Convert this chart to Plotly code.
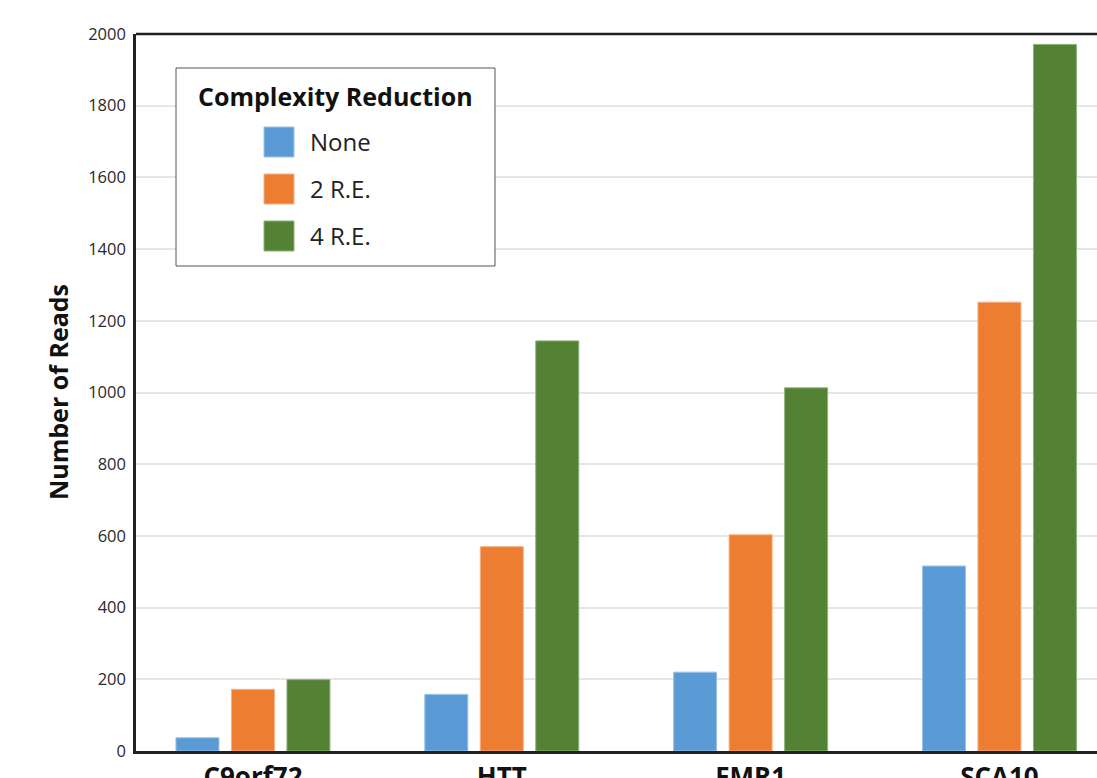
import plotly.graph_objects as go

# ---- data ----
genes = ["C9orf72", "HTT", "FMR1", "SCA10"]
series_names = ["None", "2 R.E.", "4 R.E."]
none_reads = [37, 158, 220, 516]
re2_reads = [172, 570, 603, 1252]
re4_reads = [199, 1144, 1013, 1971]
y_ticks = [0, 200, 400, 600, 800, 1000, 1200, 1400, 1600, 1800, 2000]

colors = ["#5b9bd5", "#ed7d31", "#548235"]
edge = ["#9cc3e6", "#f4b183", "#8fb27a"]

W, H = 1097, 778
PL, PR, PT, PB = 136, 1097, 34, 751  # plot area in pixels
FONT = "Open Sans"


def px(x):
    return (x - PL) / (PR - PL)


def py(y):
    return (PB - y) / (PB - PT)


fig = go.Figure()
for name, vals, c, e in zip(series_names, [none_reads, re2_reads, re4_reads], colors, edge):
    fig.add_trace(go.Bar(x=genes, y=vals, name=name, marker=dict(color=c, line=dict(color=e, width=1)),
                         showlegend=False))

fig.update_layout(
    width=W, height=H, autosize=False,
    margin=dict(l=PL, r=W - PR, t=PT, b=H - PB, pad=0, autoexpand=False),
    paper_bgcolor="white", plot_bgcolor="white",
    barmode="group", bargap=0.331, bargroupgap=0.225,
    font=dict(family=FONT, color="#222"),
    xaxis=dict(range=[-0.47, 3.392], showline=True, linecolor="#222", linewidth=2.5, mirror=False,
               showgrid=False, ticks="", automargin=False,
               tickfont=dict(size=26, family=FONT, color="#111", weight="bold"),
               ticklabelstandoff=1),
    yaxis=dict(range=[0, 2000], tickvals=y_ticks, showline=True, linecolor="#222", linewidth=2.5,
               mirror=False, showgrid=True, gridcolor="#e6e6e6", gridwidth=1.5, zeroline=False,
               ticks="", automargin=False, tickfont=dict(size=16.5, family=FONT, color="#2a2a2a"),
               ticklabelstandoff=4),
)

# top frame line
fig.add_shape(type="line", xref="paper", yref="paper", x0=0, x1=1.02, y0=1, y1=1,
              line=dict(color="#222", width=2.5), layer="above")

# y axis title
fig.add_annotation(text="<b>Number of Reads</b>", xref="paper", yref="paper", x=px(58), y=py(392),
                   textangle=-90, showarrow=False, xanchor="center", yanchor="middle",
                   font=dict(size=25, family=FONT, color="#111"))

# legend box (manual)
fig.add_shape(type="rect", xref="paper", yref="paper", x0=px(176), x1=px(495), y0=py(266), y1=py(68),
              line=dict(color="#555", width=1), fillcolor="white", layer="above")
fig.add_annotation(text="<b>Complexity Reduction</b>", xref="paper", yref="paper", x=px(335), y=py(96),
                   showarrow=False, xanchor="center", yanchor="middle",
                   font=dict(size=25, family=FONT, color="#111"))
row_y = [142, 189, 236]
for name, c, e, ry in zip(series_names, colors, edge, row_y):
    fig.add_shape(type="rect", xref="paper", yref="paper", x0=px(264), x1=px(294), y0=py(ry + 15),
                  y1=py(ry - 15), fillcolor=c, line=dict(color=e, width=1), layer="above")
    fig.add_annotation(text=name, xref="paper", yref="paper", x=px(308), y=py(ry), showarrow=False,
                       xanchor="left", yanchor="middle", font=dict(size=24, family=FONT, color="#222"))

fig.write_html("out.html", config={"displayModeBar": False},
               post_script="document.body.style.margin='0';document.body.style.overflow='hidden';")
